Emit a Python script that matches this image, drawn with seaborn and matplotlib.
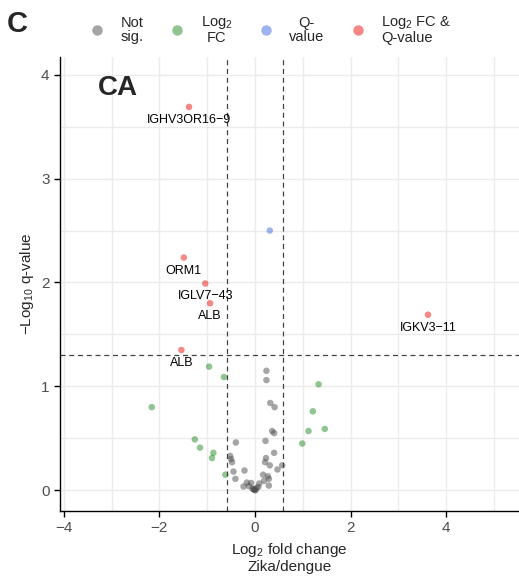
import numpy as np
import pandas as pd
import seaborn as sns
import matplotlib
import matplotlib.pyplot as plt
from matplotlib.lines import Line2D
from matplotlib.ticker import MultipleLocator

# not significant
ns_fc = [0.24, 0.24, 0.32, 0.41, 0.36, 0.40, 0.22, 0.40, -0.40, -0.52, -0.50, -0.48,
         0.23, 0.21, 0.31, 0.57, 0.47, -0.45, -0.22, -0.41, 0.17, 0.27, 0.29, 0.19,
         0.29, -0.17, -0.08, -0.24, -0.13, 0.09, 0.07, -0.02, -0.05, 0.01, -0.03, 0.03, 0.0]
ns_q = [1.15, 1.06, 0.84, 0.80, 0.57, 0.55, 0.475, 0.36, 0.46, 0.33, 0.30, 0.27,
        0.31, 0.27, 0.24, 0.24, 0.20, 0.18, 0.19, 0.11, 0.15, 0.135, 0.11, 0.09,
        0.045, 0.074, 0.07, 0.036, 0.04, 0.065, 0.032, 0.007, 0.016, 0.0, 0.01, 0.02, 0.003]
# log2 FC only
fc_fc = [-0.96, -0.65, -2.16, -1.26, -1.15, -0.87, -0.90, -0.62, 1.33, 1.21, 1.12, 1.46, 0.99]
fc_q = [1.19, 1.09, 0.80, 0.49, 0.41, 0.36, 0.31, 0.15, 1.02, 0.76, 0.57, 0.59, 0.45]
# q-value only
q_fc = [0.31]
q_q = [2.50]
# both
both_genes = ["IGHV3OR16−9", "ORM1", "IGLV7−43", "ALB", "ALB", "IGKV3−11"]
both_fc = [-1.38, -1.49, -1.04, -0.94, -1.54, 3.62]
both_q = [3.69, 2.24, 1.99, 1.80, 1.35, 1.69]

cats = ["Not sig.", "Log2 FC", "Q-value", "Both"]
legend_labels = ["Not\nsig.", "Log$_2$\nFC", "Q-\nvalue", "Log$_2$ FC &\nQ-value"]
colors = ["#4d4d4d", "#228b22", "#4169e1", "#ee1111"]

df = pd.concat([
    pd.DataFrame({"fc": ns_fc, "q": ns_q, "cat": cats[0]}),
    pd.DataFrame({"fc": fc_fc, "q": fc_q, "cat": cats[1]}),
    pd.DataFrame({"fc": q_fc, "q": q_q, "cat": cats[2]}),
    pd.DataFrame({"fc": both_fc, "q": both_q, "cat": cats[3]}),
])

sns.set_style("whitegrid")
plt.rcParams['font.family'] = ['Liberation Sans', 'DejaVu Sans']
plt.rcParams['mathtext.default'] = 'regular'

fig = plt.figure(figsize=(5.19, 5.79), dpi=100)
ax = fig.add_axes([0.1156, 0.1174, 0.884, 0.784])

sns.scatterplot(data=df, x="fc", y="q", hue="cat", hue_order=cats,
                palette=colors, alpha=0.5, s=22, linewidth=0, ax=ax, legend=False)

# cut-off lines
for v in [-0.585, 0.585]:
    ax.axvline(v, color="#444444", ls=(0, (4, 3)), lw=0.9)
ax.axhline(1.30, color="#444444", ls=(0, (4, 3)), lw=0.9)

# gene labels
for g, x, y in zip(both_genes, both_fc, both_q):
    ax.annotate(g, (x, y), xytext=(0, -5), textcoords="offset points",
                ha="center", va="top", fontsize=9, color="black")

ax.set_xlim(-4.08, 5.52)
ax.set_ylim(-0.2, 4.17)
ax.xaxis.set_major_locator(MultipleLocator(2))
ax.xaxis.set_minor_locator(MultipleLocator(1))
ax.yaxis.set_major_locator(MultipleLocator(1))
ax.yaxis.set_minor_locator(MultipleLocator(0.5))
ax.grid(which="both", color="#ebebeb", lw=1.0)
ax.set_axisbelow(True)

for s in ["top", "right"]:
    ax.spines[s].set_visible(False)
for s in ["left", "bottom"]:
    ax.spines[s].set_color("black")
    ax.spines[s].set_linewidth(1.0)
ax.tick_params(axis="both", which="major", length=4, width=1, color="black",
               labelsize=11, labelcolor="#4d4d4d", direction="out",
               bottom=True, left=True)
ax.tick_params(axis="both", which="minor", length=0)

ax.set_xlabel("Log$_2$ fold change\nZika/dengue", fontsize=11, linespacing=1.1)
ax.set_ylabel("−Log$_{10}$ q-value", fontsize=11)

ax.text(0.082, 0.932, "CA", transform=ax.transAxes, fontsize=20,
        fontweight="bold", va="center")
fig.text(0.013, 0.958, "C", fontsize=21, fontweight="bold", va="center")

handles = [Line2D([], [], marker="o", ls="", color=c, alpha=0.5, markersize=7.5,
                  markeredgewidth=0) for c in colors]
leg = fig.legend(handles, legend_labels, loc="center", bbox_to_anchor=(0.52, 0.949),
                 ncol=4, frameon=False, fontsize=10.5, handletextpad=1.0,
                 columnspacing=1.7, handlelength=1.2, labelspacing=0.3)
for t in leg.get_texts()[1:3]:
    t.set_multialignment("center")
for t in leg.get_texts():
    t.set_linespacing(1.0)

fig.savefig("out.png", dpi=100)
